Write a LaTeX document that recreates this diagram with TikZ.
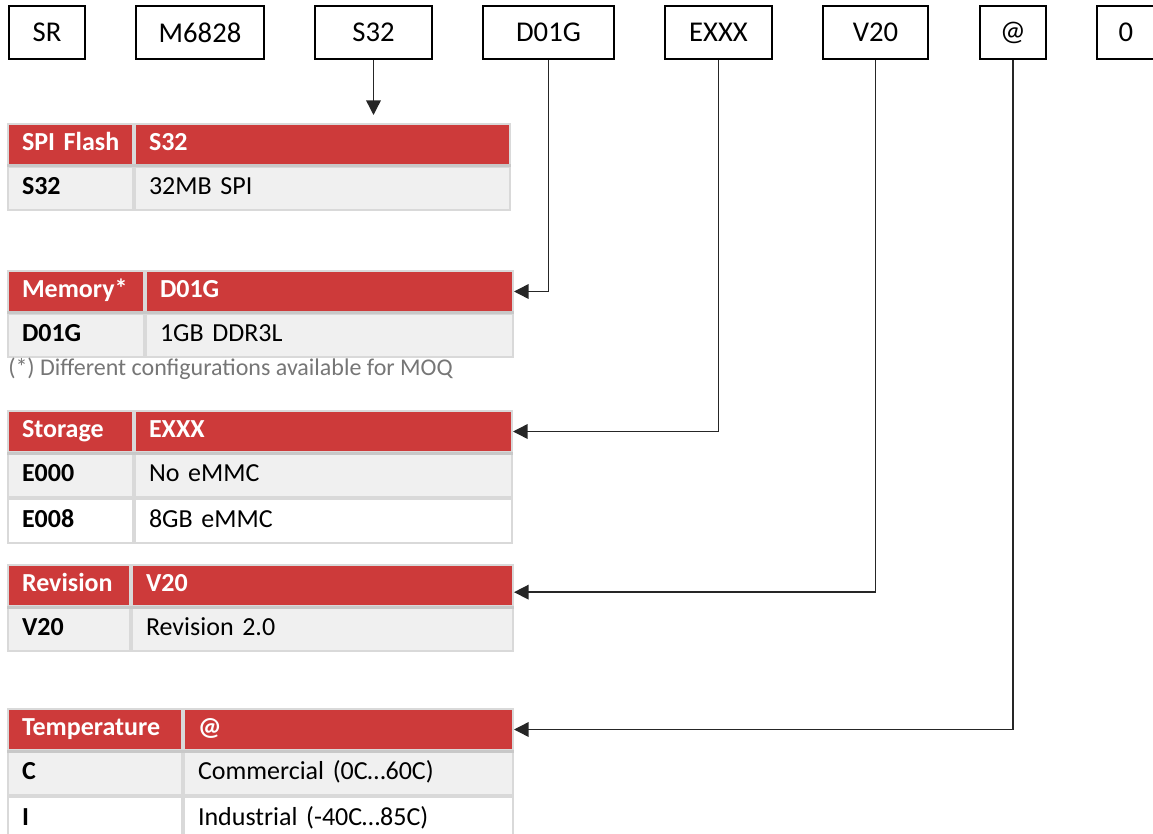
\documentclass[tikz,border=0pt]{standalone}
\usepackage{fontspec}
\setmainfont{Carlito}
\usetikzlibrary{arrows.meta}
\definecolor{tabred}{HTML}{CD3A3A}
\definecolor{rowgray}{HTML}{F0F0F0}
\definecolor{tabline}{HTML}{D9D9D9}
\definecolor{rulegray}{HTML}{C8C8C8}
\definecolor{notegray}{HTML}{767676}
\newcommand\cellfont{\fontsize{19.5}{23}\selectfont}
\newcommand\codefont{\fontsize{21.5}{25}\selectfont}
\tikzset{
  code/.style={draw, line width=1.5pt, minimum height=39.75pt, inner sep=0pt, font=\codefont},
  cell/.style={draw=tabline, line width=1.5pt, anchor=north west, inner xsep=10.5pt, inner ysep=0pt,
    align=left, text width=#1, text height=13.5pt, text depth=4.5pt, font=\cellfont},
  hcell/.style={cell=#1, fill=tabred, text=white, minimum height=30.75pt, font=\cellfont\bfseries},
  odd/.style={cell=#1, fill=rowgray, minimum height=32.6pt},
  even/.style={cell=#1, fill=white, minimum height=32.6pt},
  key/.style={font=\cellfont\bfseries},
  hdrule/.style={draw=rulegray, line width=2.25pt},
  conn/.style={draw=black!85, line width=1.1pt},
}
\begin{document}
\begin{tikzpicture}[x=0.75pt, y=-0.75pt, >={Triangle[length=11pt,width=11pt]}]
\useasboundingbox (0,0) rectangle (1153,834);
% part number
\node[code, minimum width=57pt] (sr) at (47,32.5) {SR};
\node[code, minimum width=96pt] (m6828) at (200,32.5) {M6828};
\node[code, minimum width=87.75pt] (s32) at (373.5,32.5) {S32};
\node[code, minimum width=98.25pt] (d01g) at (548.5,32.5) {D01G};
\node[code, minimum width=80.25pt] (exxx) at (718.5,32.5) {EXXX};
\node[code, minimum width=78.75pt] (v20) at (875.5,32.5) {V20};
\node[code, minimum width=49.5pt] (tmp) at (1013,32.5) {@};
\node[code, minimum width=43.5pt] (zero) at (1126,32.5) {0};
% SPI flash
\node[hcell=72.75pt] (spihk) at (7,123) {SPI~Flash};
\node[hcell=260.25pt] (spihv) at (spihk.north east) {S32};
\node[odd=72.75pt, key] (spi1k) at (spihk.south west) {S32};
\node[odd=260.25pt] (spi1v) at (spi1k.north east) {32MB SPI};
\draw[hdrule] (spihk.south west) -- (spihv.south east);
% memory
\node[hcell=81pt] (memhk) at (7,270) {Memory*};
\node[hcell=254.25pt] (memhv) at (memhk.north east) {D01G};
\node[odd=81pt, key] (mem1k) at (memhk.south west) {D01G};
\node[odd=254.25pt] (mem1v) at (mem1k.north east) {1GB DDR3L};
\draw[hdrule] (memhk.south west) -- (memhv.south east);
\node[anchor=base west, inner sep=0pt, text=notegray, font=\fontsize{18}{21}\selectfont] (moqnote) at (8,375) {(*) Different configurations available for MOQ};
% storage
\node[hcell=72.75pt] (stohk) at (7,410) {Storage};
\node[hcell=261.75pt] (stohv) at (stohk.north east) {EXXX};
\node[odd=72.75pt, key] (sto1k) at (stohk.south west) {E000};
\node[odd=261.75pt] (sto1v) at (sto1k.north east) {No eMMC};
\node[even=72.75pt, key] (sto2k) at (sto1k.south west) {E008};
\node[even=261.75pt] (sto2v) at (sto2k.north east) {8GB eMMC};
\draw[hdrule] (stohk.south west) -- (stohv.south east);
% revision
\node[hcell=70.5pt] (revhk) at (7,564) {Revision};
\node[hcell=264.75pt] (revhv) at (revhk.north east) {V20};
\node[odd=70.5pt, key] (rev1k) at (revhk.south west) {V20};
\node[odd=264.75pt] (rev1v) at (rev1k.north east) {Revision 2.0};
\draw[hdrule] (revhk.south west) -- (revhv.south east);
% temperature
\node[hcell=109.5pt] (tmphk) at (7,708) {Temperature};
\node[hcell=225.75pt] (tmphv) at (tmphk.north east) {@};
\node[odd=109.5pt, key] (tmp1k) at (tmphk.south west) {C};
\node[odd=225.75pt] (tmp1v) at (tmp1k.north east) {Commercial (0C…60C)};
\node[even=109.5pt, key] (tmp2k) at (tmp1k.south west) {I};
\node[even=225.75pt] (tmp2v) at (tmp2k.north east) {Industrial (-40C…85C)};
\draw[hdrule] (tmphk.south west) -- (tmphv.south east);
% connectors
\draw[conn, ->, shorten >=6pt] (s32) -- (s32 |- spihv.north);
\draw[conn, ->] (d01g) |- (memhv.east);
\draw[conn, ->] (exxx) |- (stohv.east);
\draw[conn, ->] (v20) |- ([yshift=-5pt]revhv.east);
\draw[conn, ->] (tmp) |- (tmphv.east);
\end{tikzpicture}
\end{document}
